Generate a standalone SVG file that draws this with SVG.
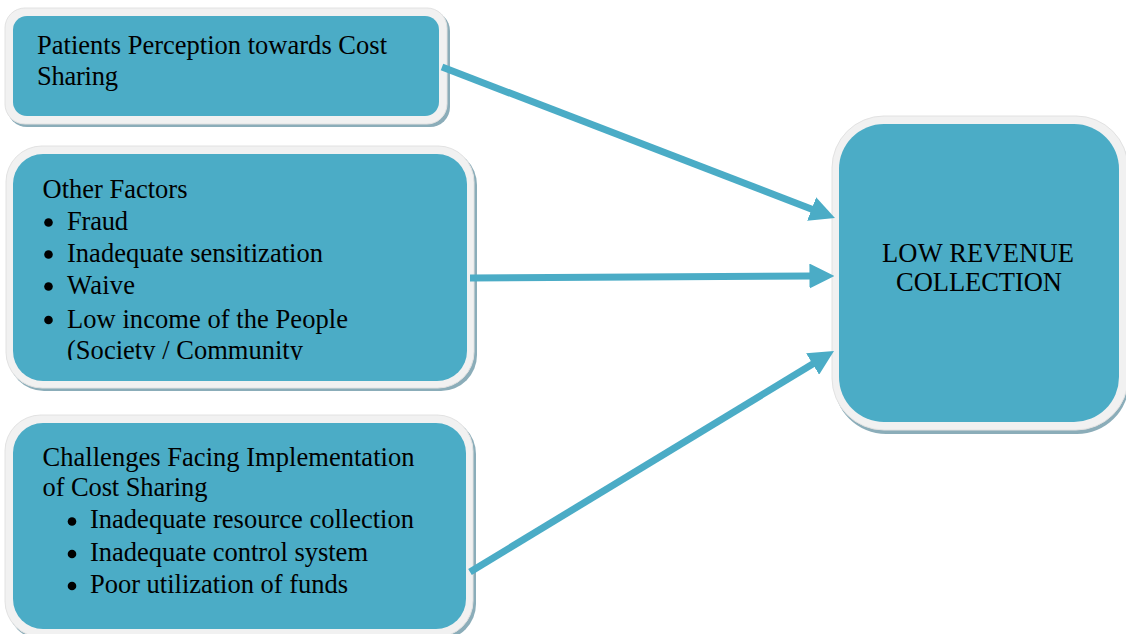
<svg xmlns="http://www.w3.org/2000/svg" width="1126" height="634" viewBox="0 0 1126 634">
  <defs>
    <style>
      .shadow { fill: #8badb9; }
      .frame { fill: #f1f1f1; stroke: #e2e2e2; stroke-width: 1; }
      .body { fill: #4bacc6; }
      .label { font-family: "Liberation Serif", "Times New Roman", serif; font-size: 26.5px; fill: #000; }
      .link { stroke: #4bacc6; stroke-width: 7; fill: none; marker-end: url(#head); }
    </style>
    <marker id="head" markerUnits="userSpaceOnUse" markerWidth="25" markerHeight="25" viewBox="0 0 24 24" refX="1" refY="12" orient="auto">
      <path d="M0,0 L24,12 L0,24 Z" fill="#4bacc6"/>
    </marker>
    <clipPath id="clip-other">
      <rect x="13" y="154" width="454" height="206"/>
    </clipPath>
  </defs>

  <rect width="1126" height="634" fill="#ffffff"/>

  <!-- Box: patients perception -->
  <g id="node-perception">
    <rect class="shadow" x="7" y="11" width="443" height="116" rx="20"/>
    <rect class="frame" x="5" y="8" width="442" height="116" rx="20"/>
    <rect class="body" x="13" y="16" width="426" height="100" rx="14"/>
    <text class="label" x="37" y="54" textLength="350" lengthAdjust="spacing">Patients Perception towards Cost</text>
    <text class="label" x="37" y="85" textLength="81" lengthAdjust="spacing">Sharing</text>
  </g>

  <!-- Box: other factors -->
  <g id="node-other-factors">
    <rect class="shadow" x="8" y="149" width="469" height="242" rx="36"/>
    <rect class="frame" x="6" y="146" width="468" height="242" rx="36"/>
    <rect class="body" x="13" y="154" width="454" height="227" rx="30"/>
    <g clip-path="url(#clip-other)">
      <text class="label" x="42.5" y="198" textLength="145" lengthAdjust="spacing">Other Factors</text>
      <circle cx="48.5" cy="222.5" r="4.3"/>
      <text class="label" x="67" y="230" textLength="61" lengthAdjust="spacing">Fraud</text>
      <circle cx="48.5" cy="254.5" r="4.3"/>
      <text class="label" x="67" y="262" textLength="256" lengthAdjust="spacing">Inadequate sensitization</text>
      <circle cx="48.5" cy="286.5" r="4.3"/>
      <text class="label" x="67" y="294" textLength="68" lengthAdjust="spacing">Waive</text>
      <circle cx="48.5" cy="320" r="4.3"/>
      <text class="label" x="67" y="327.5" textLength="281" lengthAdjust="spacing">Low income of the People</text>
      <text class="label" x="67" y="359" textLength="236" lengthAdjust="spacing">(Society / Community</text>
    </g>
  </g>

  <!-- Box: implementation challenges -->
  <g id="node-challenges">
    <rect class="shadow" x="7" y="418" width="469" height="222" rx="36"/>
    <rect class="frame" x="5" y="415" width="468" height="222" rx="36"/>
    <rect class="body" x="13" y="423" width="453" height="206" rx="30"/>
    <text class="label" x="42.5" y="466" textLength="372" lengthAdjust="spacing">Challenges Facing Implementation</text>
    <text class="label" x="42.5" y="496" textLength="165" lengthAdjust="spacing">of Cost Sharing</text>
    <circle cx="72" cy="521.5" r="4.3"/>
    <text class="label" x="90" y="528" textLength="324" lengthAdjust="spacing">Inadequate resource collection</text>
    <circle cx="72" cy="554" r="4.3"/>
    <text class="label" x="90" y="560.5" textLength="278" lengthAdjust="spacing">Inadequate control system</text>
    <circle cx="72" cy="586" r="4.3"/>
    <text class="label" x="90" y="592.5" textLength="258" lengthAdjust="spacing">Poor utilization of funds</text>
  </g>

  <!-- Box: outcome -->
  <g id="node-outcome">
    <rect class="shadow" x="834" y="119" width="295" height="315" rx="52"/>
    <rect class="frame" x="832" y="116" width="296" height="314" rx="52"/>
    <rect class="body" x="839" y="124" width="280" height="298" rx="45"/>
    <text class="label" x="882" y="261.5" textLength="192" lengthAdjust="spacing">LOW REVENUE</text>
    <text class="label" x="896" y="291" textLength="166" lengthAdjust="spacing">COLLECTION</text>
  </g>

  <!-- Connectors -->
  <g id="connectors">
    <line class="link" x1="442" y1="67" x2="812.6" y2="209.4"/>
    <line class="link" x1="470" y1="278" x2="810.5" y2="276.1"/>
    <line class="link" x1="470" y1="572" x2="813.5" y2="363.5"/>
  </g>
</svg>
